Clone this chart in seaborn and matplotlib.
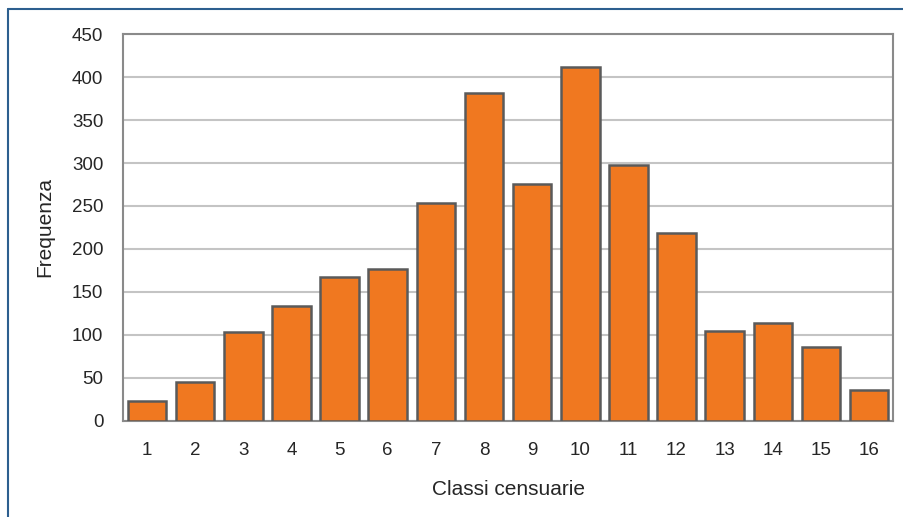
import matplotlib
matplotlib.use("Agg")
import matplotlib.pyplot as plt
import seaborn as sns
import pandas as pd
from matplotlib.lines import Line2D

classes = [str(i) for i in range(1, 17)]
frequenze = [23, 45, 103, 134, 167, 177, 253, 381, 276, 412, 298, 218, 105, 114, 86, 36]
y_ticks = [0, 50, 100, 150, 200, 250, 300, 350, 400, 450]

df = pd.DataFrame({"Classe": classes, "Frequenza": frequenze})

sns.set_theme(style="white")
plt.rcParams['font.family'] = ['Liberation Sans', 'DejaVu Sans']

fig = plt.figure(figsize=(9.04, 5.17), dpi=100)
ax = fig.add_axes([0.136, 0.186, 0.852, 0.748])

sns.barplot(data=df, x="Classe", y="Frequenza", order=classes, color="#F07820",
            saturation=1, width=0.8, edgecolor="#5a5a5a", linewidth=1.8, ax=ax, zorder=3)

ax.set_ylim(0, 450)
ax.set_xlim(-0.5, 15.5)
ax.set_yticks(y_ticks)
ax.yaxis.grid(True, color="#c4c4c4", linewidth=1.5, zorder=0)
ax.set_axisbelow(True)
for s in ax.spines.values():
    s.set_color("#8a8a8a")
    s.set_linewidth(1.5)
ax.tick_params(axis="both", labelsize=13.5, colors="#262626", length=0)
ax.tick_params(axis="x", pad=15.5)
ax.tick_params(axis="y", pad=14)
ax.set_xlabel("Classi censuarie", fontsize=15, color="#262626", labelpad=15)
ax.set_ylabel("Frequenza", fontsize=15, color="#262626", labelpad=13)

# figure frame lines (top and left)
fig.add_artist(Line2D([8/904, 1.0], [1-9/517, 1-9/517], transform=fig.transFigure,
                      color="#2d5f8f", linewidth=1.5))
fig.add_artist(Line2D([8/904, 8/904], [0, 1-9/517], transform=fig.transFigure,
                      color="#2d5f8f", linewidth=1.5))

fig.savefig("out.png", dpi=100)
